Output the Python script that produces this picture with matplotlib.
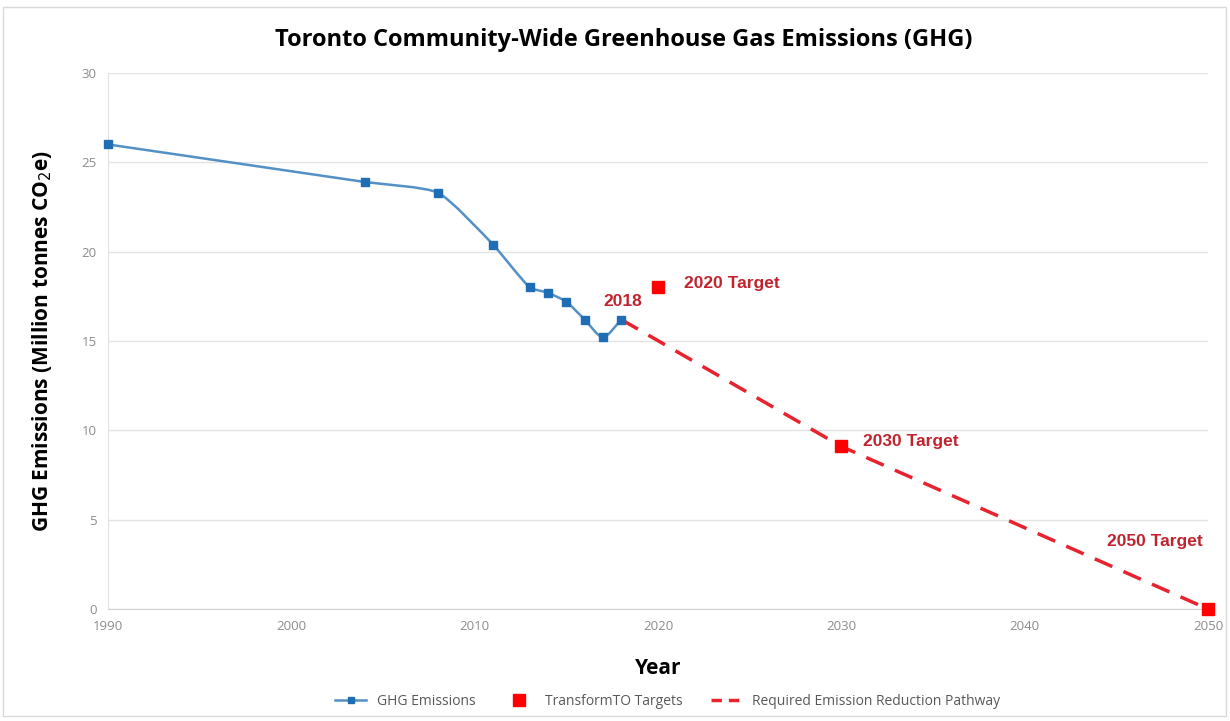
import matplotlib.pyplot as plt
from matplotlib.path import Path
from matplotlib.patches import PathPatch, Rectangle
from matplotlib.lines import Line2D
import numpy as np

# Historical emissions (Mt CO2e)
years = [1990, 2004, 2008, 2011, 2013, 2014, 2015, 2016, 2017, 2018]
emissions = [26.0, 23.9, 23.3, 20.4, 18.0, 17.7, 17.2, 16.2, 15.2, 16.2]

# TransformTO targets
target_years = [2020, 2030, 2050]
target_values = [18.0, 9.1, 0.0]

# Required pathway
path_years = [2018, 2030, 2050]
path_values = [16.2, 9.1, 0.0]

x_ticks = [1990, 2000, 2010, 2020, 2030, 2040, 2050]
y_ticks = [0, 5, 10, 15, 20, 25, 30]

narrow = ["Liberation Sans Narrow", "Open Sans", "DejaVu Sans"]
arial = ["Liberation Sans", "DejaVu Sans"]

BLUE_LINE = "#5290c6"
BLUE_MARK = "#1f6db5"
RED = "#ff0000"
DASH_RED = "#e8232e"
LABEL_RED = "#c0242f"


def smooth_path(xs, ys, tension=0.18):
    """Smoothed line: bezier segments with tangents scaled by segment length."""
    pts = np.column_stack([xs, ys]).astype(float)
    n = len(pts)
    tang = []
    for i in range(n):
        a = pts[max(i - 1, 0)]
        b = pts[min(i + 1, n - 1)]
        d = b - a
        tang.append(d / np.hypot(*d))
    verts = [pts[0]]
    codes = [Path.MOVETO]
    for i in range(n - 1):
        p1, p2 = pts[i], pts[i + 1]
        seg = np.hypot(*(p2 - p1))
        c1 = p1 + tang[i] * seg * tension
        c2 = p2 - tang[i + 1] * seg * tension
        verts += [c1, c2, p2]
        codes += [Path.CURVE4] * 3
    return Path(verts, codes)


fig = plt.figure(figsize=(12.3, 7.21), dpi=100)
ax = fig.add_axes([0.0878, 0.1553, 0.8943, 0.7435])

# outer chart border
fig.patches.append(Rectangle((3 / 1230, 5 / 721), 1223 / 1230, 709 / 721,
                             transform=fig.transFigure, fill=False,
                             edgecolor="#d9d9d9", linewidth=1.0))

ax.add_patch(PathPatch(smooth_path(years, emissions), facecolor="none",
                       edgecolor=BLUE_LINE, linewidth=1.8, zorder=3))
ax.plot(years, emissions, linestyle="none", marker="s", markersize=6,
        color=BLUE_MARK, zorder=4, clip_on=False)

ax.plot(path_years, path_values, linestyle=(0, (5.5, 3.5)), color=DASH_RED,
        linewidth=2.5, zorder=3)
ax.plot(target_years, target_values, linestyle="none", marker="s",
        markersize=9, color=RED, zorder=5, clip_on=False)

ax.text(2018.1, 17.2, "2018", color=LABEL_RED, fontsize=12.5,
        fontweight="bold", family=arial, ha="center", va="center")
ax.text(2021.4, 18.2, "2020 Target", color=LABEL_RED, fontsize=12.5,
        fontweight="bold", family=arial, ha="left", va="center")
ax.text(2031.2, 9.35, "2030 Target", color=LABEL_RED, fontsize=12.5,
        fontweight="bold", family=arial, ha="left", va="center")
ax.text(2049.7, 3.8, "2050 Target", color=LABEL_RED, fontsize=12.5,
        fontweight="bold", family=arial, ha="right", va="center")

ax.set_xlim(1990, 2050)
ax.set_ylim(0, 30)
ax.set_xticks(x_ticks)
ax.set_yticks(y_ticks)
ax.tick_params(length=0, labelsize=9.5, labelcolor="#8c8c8c", pad=8)
for lab in ax.get_xticklabels() + ax.get_yticklabels():
    lab.set_family(narrow)

ax.grid(axis="y", color="#e3e3e3", linewidth=1)
ax.set_axisbelow(True)
for side in ["top", "right"]:
    ax.spines[side].set_visible(False)
ax.spines["left"].set_color("#e3e3e3")
ax.spines["bottom"].set_color("#d0d0d0")

ax.set_xlabel("Year", fontsize=15, fontweight="bold", family=narrow,
              labelpad=18)
ax.set_ylabel("GHG Emissions (Million tonnes CO$_2$e)", fontsize=15,
              fontweight="bold", family=narrow, labelpad=20)
fig.text(0.507, 0.944, "Toronto Community-Wide Greenhouse Gas Emissions (GHG)",
         ha="center", va="center", fontsize=17, fontweight="bold",
         family=narrow)

handles = [
    Line2D([], [], color=BLUE_LINE, linewidth=1.8, marker="s",
           markersize=5, markerfacecolor=BLUE_MARK, markeredgecolor=BLUE_MARK),
    Line2D([], [], linestyle="none", marker="s", markersize=8, color=RED),
    Line2D([], [], color=DASH_RED, linewidth=2.5, linestyle=(0, (3, 2))),
]
labels = ["GHG Emissions", "TransformTO Targets",
          "Required Emission Reduction Pathway"]
leg = fig.legend(handles, labels, loc="center", bbox_to_anchor=(0.543, 0.027),
                 ncol=3, frameon=False, handlelength=2.2,
                 columnspacing=2.0, prop={"family": narrow, "size": 10})
for t in leg.get_texts():
    t.set_color("#595959")

fig.savefig("out.png", dpi=100)
